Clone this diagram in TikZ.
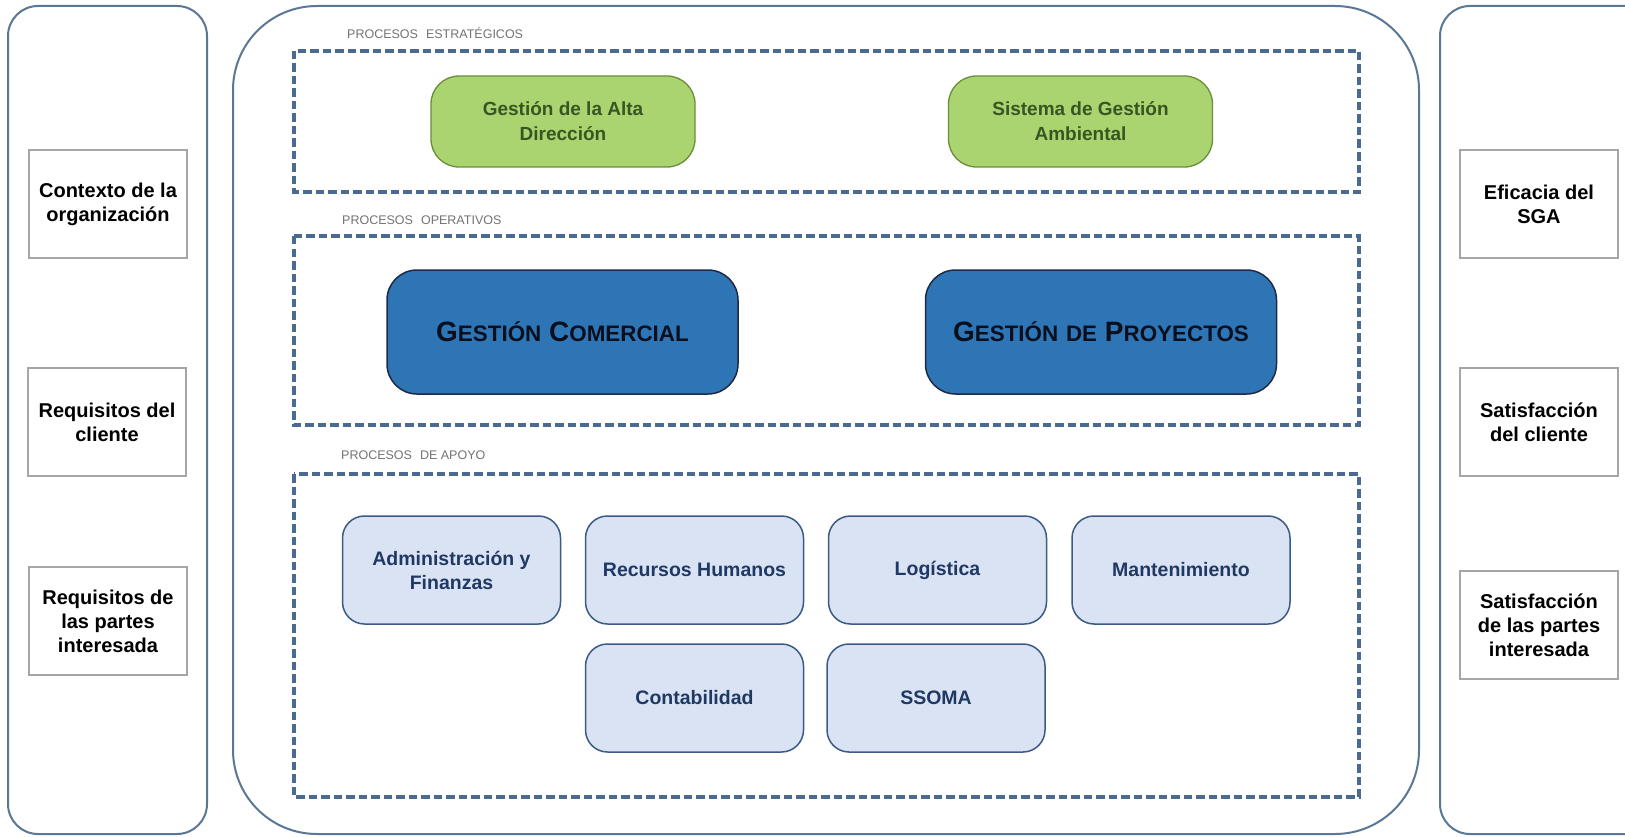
\documentclass[tikz,border=0pt]{standalone}
\usepackage{fontspec}
\setmainfont{Liberation Sans}
\definecolor{panelc}{HTML}{5A7896}
\definecolor{dashc}{HTML}{4A6B8F}
\definecolor{labc}{HTML}{737373}
\definecolor{grfill}{HTML}{A9D46F}
\definecolor{grdraw}{HTML}{6B8E3A}
\definecolor{grtext}{HTML}{375623}
\definecolor{blfill}{HTML}{2E75B6}
\definecolor{bldraw}{HTML}{1F2A44}
\definecolor{ltfill}{HTML}{DAE3F3}
\definecolor{ltdraw}{HTML}{3B5A85}
\definecolor{lttext}{HTML}{1F3864}
\definecolor{sidedraw}{HTML}{A6A6A6}
\definecolor{optext}{HTML}{0A0F1E}
\newcommand{\fsc}[2]{#1{\fontsize{22.4}{26}\selectfont #2}}
\tikzset{
  panel/.style={draw=panelc, line width=2pt},
  dbox/.style={draw=dashc, line width=3.3pt, dash pattern=on 8.5pt off 4pt},
  grp/.style={font=\fontsize{12.5}{14}\selectfont, text=labc, anchor=west, inner sep=0pt},
  sidebox/.style={draw=sidedraw, line width=1.2pt, fill=white, minimum width=158pt, minimum height=108pt, align=center, font=\fontsize{20}{24}\selectfont\bfseries, text=black},
  stratbox/.style={draw=grdraw, line width=1.3pt, fill=grfill, rounded corners=28pt, minimum width=264pt, minimum height=91pt, align=center, font=\fontsize{19}{25}\selectfont\bfseries, text=grtext},
  operbox/.style={draw=bldraw, line width=1.5pt, fill=blfill, rounded corners=30pt, minimum width=351pt, minimum height=124pt, align=center, font=\fontsize{28}{32}\selectfont\bfseries, text=optext},
  supbox/.style={draw=ltdraw, line width=1.5pt, fill=ltfill, rounded corners=22pt, minimum width=218pt, minimum height=108pt, align=center, font=\fontsize{19.5}{24}\selectfont\bfseries, text=lttext},
}
\begin{document}
\begin{tikzpicture}[x=1pt,y=-1pt]
\useasboundingbox (0,0) rectangle (1625,837);
\clip (0,0) rectangle (1625,837);
\fill[white] (0,0) rectangle (1625,837);
% panels
\draw[panel, rounded corners=30pt] (8,6) rectangle (207,834);
\draw[panel, rounded corners=84pt] (233,6) rectangle (1419,834);
\draw[panel, rounded corners=30pt] (1440,6) rectangle (1660,834);
% dashed groups
\draw[dbox] (294,51) rectangle (1359,192);
\draw[dbox] (294,236) rectangle (1359,425);
\draw[dbox] (294,474) rectangle (1359,797);
\node[grp] (lstrat) at (347,33) {PROCESOS\hspace{8pt}ESTRATÉGICOS};
\node[grp] (loper) at (342,220) {PROCESOS\hspace{8pt}OPERATIVOS};
\node[grp] (lapoyo) at (341,455) {PROCESOS\hspace{8pt}DE APOYO};
% side boxes
\node[sidebox] (ctx) at (108,204) {Contexto de la\\organización};
\node[sidebox] (reqcli) at (107,422) {Requisitos del\\cliente};
\node[sidebox] (reqpart) at (108,621) {Requisitos de\\las partes\\interesada};
\node[sidebox] (efic) at (1539,204) {Eficacia del\\SGA};
\node[sidebox] (satcli) at (1539,422) {Satisfacción\\del cliente};
\node[sidebox] (satpart) at (1539,625) {Satisfacción\\de las partes\\interesada};
% strategic
\node[stratbox] (alta) at (563,121.5) {Gestión de la Alta\\Dirección};
\node[stratbox] (amb) at (1080.5,121.5) {Sistema de Gestión\\Ambiental};
% operative
\node[operbox] (com) at (562.5,332) {\fsc{G}{ESTIÓN} \fsc{C}{OMERCIAL}};
\node[operbox] (proy) at (1101,332) {\fsc{G}{ESTIÓN} \fsc{}{DE} \fsc{P}{ROYECTOS}};
% support
\node[supbox] (adm) at (451.5,570) {Administración y\\Finanzas};
\node[supbox] (rrhh) at (694.5,570) {Recursos Humanos};
\node[supbox] (log) at (937.5,570) {Logística};
\node[supbox] (mant) at (1181,570) {Mantenimiento};
\node[supbox] (cont) at (694.5,698) {Contabilidad};
\node[supbox] (ssoma) at (936,698) {SSOMA};
\end{tikzpicture}
\end{document}
